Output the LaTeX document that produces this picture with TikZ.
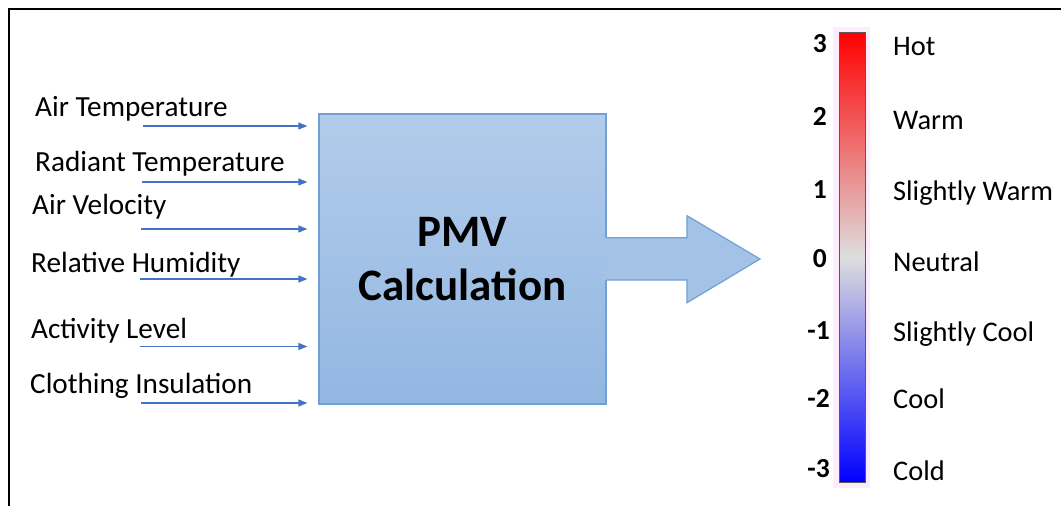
\documentclass[tikz,border=0pt]{standalone}
\usepackage{fontspec}
\setmainfont{Carlito}
\usetikzlibrary{arrows.meta}
\definecolor{boxtop}{RGB}{178,204,234}
\definecolor{boxbot}{RGB}{146,183,226}
\definecolor{boxedge}{RGB}{112,160,214}
\definecolor{arrowfill}{RGB}{164,194,230}
\definecolor{inblue}{RGB}{68,114,196}
\definecolor{neutralgray}{RGB}{222,222,222}
\definecolor{glow}{RGB}{252,236,252}
\definecolor{baredge}{RGB}{90,90,90}
\tikzset{
  inlabel/.style={anchor=base west, inner sep=0pt, font=\fontsize{29.2}{34}\selectfont},
  inarrow/.style={draw=inblue, line width=1.3pt, -{Triangle[length=9pt,width=7pt]}},
  pmvbox/.style={draw=boxedge, line width=1.2pt, top color=boxtop, bottom color=boxbot,
    minimum width=287pt, minimum height=290pt, align=center,
    font=\fontsize{45}{54}\selectfont\bfseries},
  scalenum/.style={anchor=base east, inner sep=0pt, font=\fontsize{27.5}{32}\selectfont\bfseries},
  scalelabel/.style={anchor=base west, inner sep=0pt, font=\fontsize{28.4}{34}\selectfont},
}
\begin{document}
\begin{tikzpicture}[x=1pt, y=-1pt]
\useasboundingbox (0,0) rectangle (1061,506);
\fill[white] (0,0) rectangle (1061,506);
% frame: top and left edges
\draw[line width=2pt] (9,506) -- (9,9) -- (1061,9);

% central block
\node[pmvbox] (pmv) at (462.5,259) {PMV\\Calculation};

% output arrow
\fill[arrowfill] (604,237.7) -- (687,237.7) -- (687,215.7) -- (760,259)
  -- (687,302.7) -- (687,280) -- (604,280) -- cycle;
\draw[boxedge, line width=1.2pt, line join=miter] (pmv.east |- 0,237.7) -- (687,237.7) -- (687,215.7) -- (760,259)
  -- (687,302.7) -- (687,280) -- (pmv.east |- 0,280);

% inputs
\node[inlabel] (l1) at (35,116) {Air Temperature};
\node[inlabel] (l2) at (35,171) {Radiant Temperature};
\node[inlabel] (l3) at (32,214) {Air Velocity};
\node[inlabel] (l4) at (31,272) {Relative Humidity};
\node[inlabel] (l5) at (31,338) {Activity Level};
\node[inlabel] (l6) at (30,393) {Clothing Insulation};
\coordinate (s1) at (143,126);
\coordinate (s2) at (142,182);
\coordinate (s3) at (141,229);
\coordinate (s4) at (140,279);
\coordinate (s5) at (140,346.5);
\coordinate (s6) at (141,403);
\foreach \i in {1,...,6}
  \draw[inarrow, shorten >=11pt] (s\i) -- (s\i -| pmv.west);

% colour scale
\fill[glow] (833,27) rectangle (870,488);
\path[top color=red, bottom color=blue, middle color=neutralgray] (839.5,32.5) rectangle (865,482);
\node[draw=baredge, line width=0.9pt, inner sep=0pt,
  minimum width=25.5pt, minimum height=449.5pt] (bar) at (852.25,257.25) {};

\node[scalenum] (n3) at (827,52) {3};
\node[scalenum] (n2) at (827,125) {2};
\node[scalenum] (n1) at (827,198) {1};
\node[scalenum] (n0) at (827,267) {0};
\node[scalenum] (m1) at (830,339) {-1};
\node[scalenum] (m2) at (830,407) {-2};
\node[scalenum] (m3) at (830,477) {-3};

\node[scalelabel] (t3) at (893,55) {Hot};
\node[scalelabel] (t2) at (893,129) {Warm};
\node[scalelabel] (t1) at (893,200) {Slightly Warm};
\node[scalelabel] (t0) at (893,271) {Neutral};
\node[scalelabel] (u1) at (893,341) {Slightly Cool};
\node[scalelabel] (u2) at (893,408) {Cool};
\node[scalelabel] (u3) at (893,480) {Cold};
\end{tikzpicture}
\end{document}
